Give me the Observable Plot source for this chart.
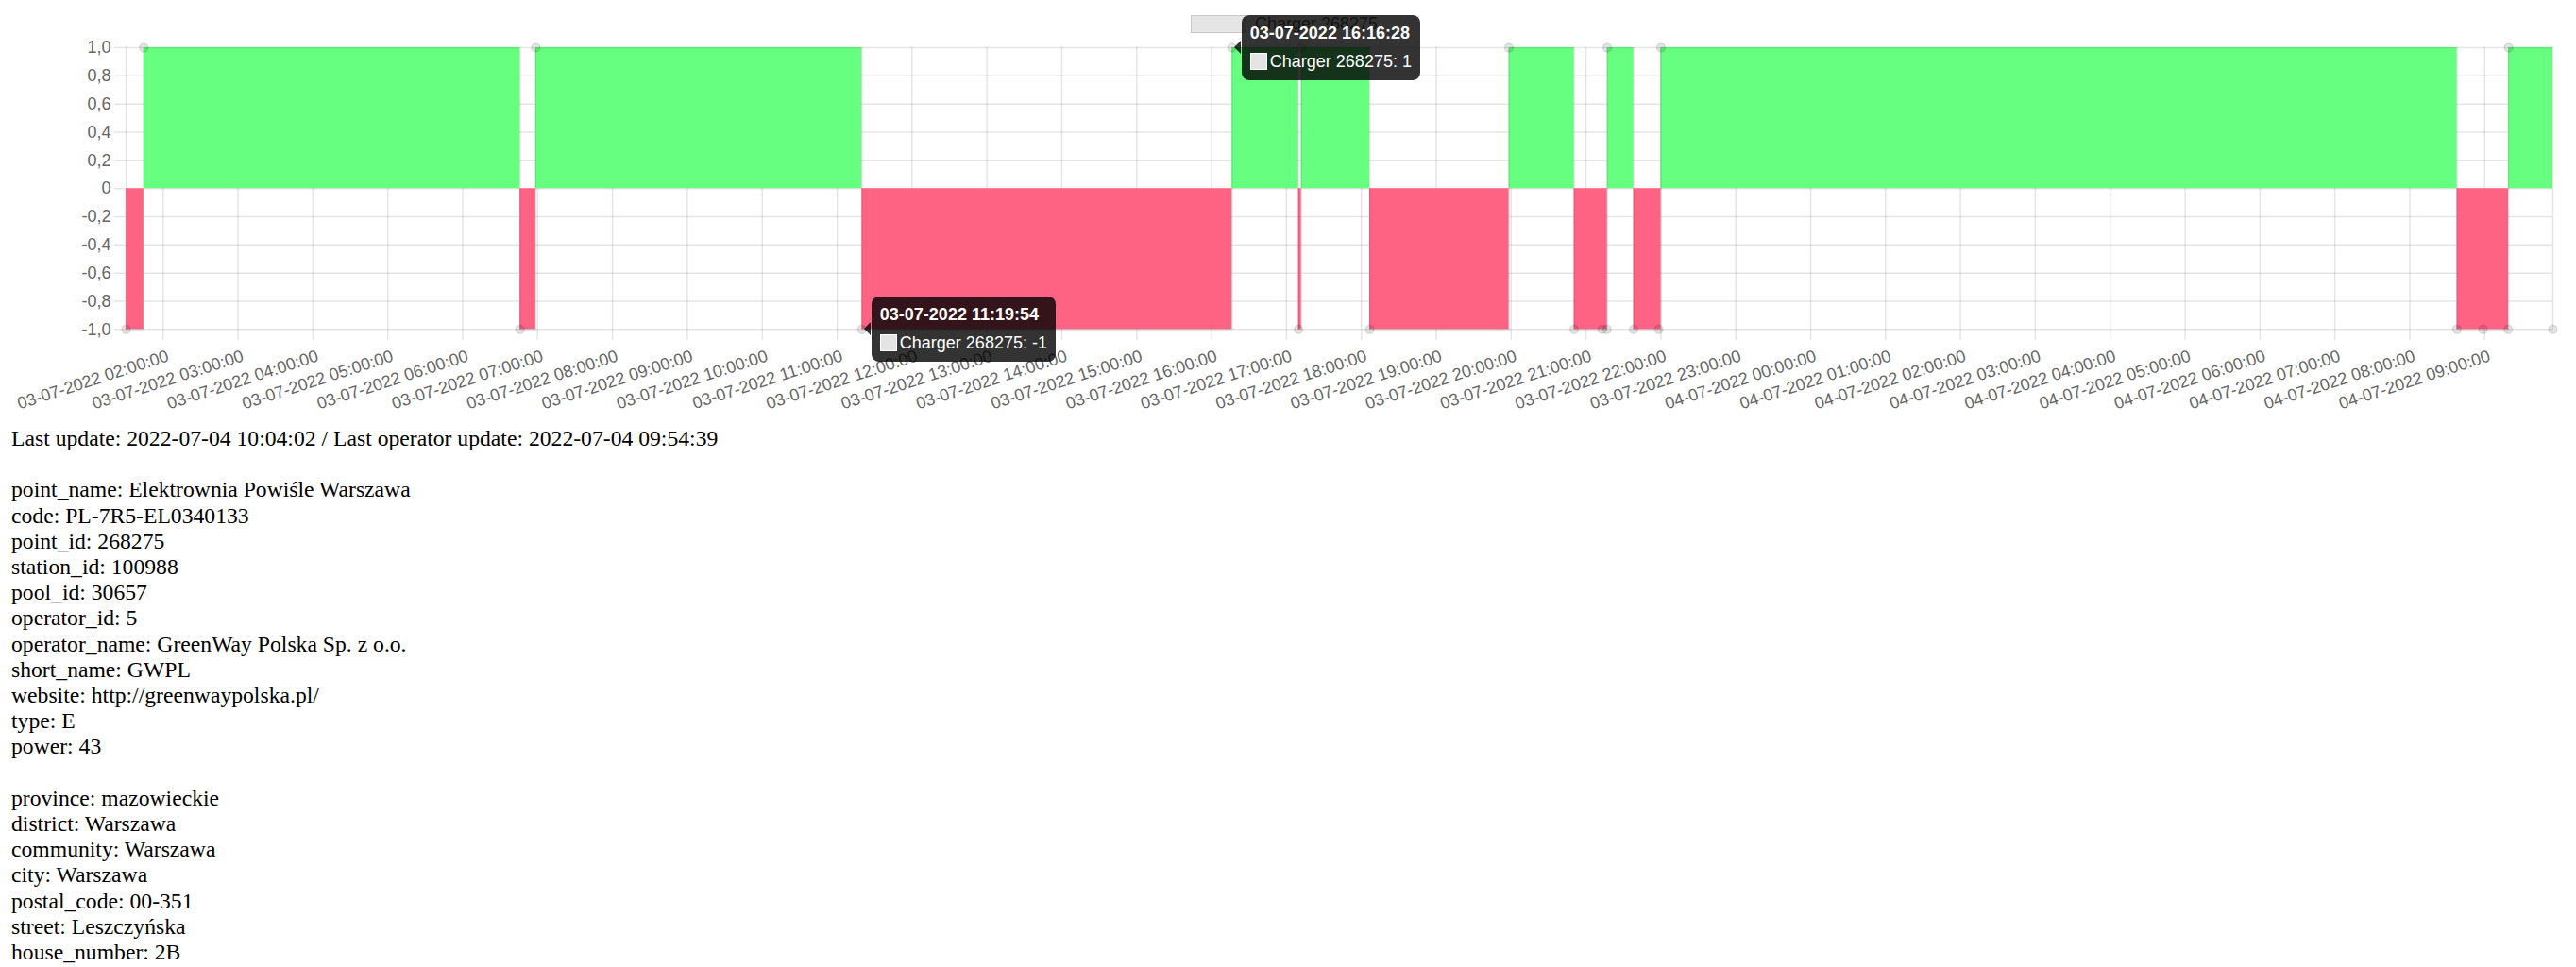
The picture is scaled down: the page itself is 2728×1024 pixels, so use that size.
<!DOCTYPE html>
<html><head><meta charset="utf-8">
<script src="https://cdn.jsdelivr.net/npm/d3@7"></script>
<script src="https://cdn.jsdelivr.net/npm/@observablehq/plot@0.6"></script>
<style>
html,body{margin:0;padding:0;background:#fff;overflow:hidden;}
#wrap{position:relative;width:2728px;}
.info{margin-left:12px;font-family:"Liberation Serif","Times New Roman",serif;font-size:23.67px;line-height:27.2px;white-space:pre;color:#000;}
.tt{position:absolute;background:rgba(0,0,0,0.8);border-radius:8px;padding:9px;color:#fff;font-family:"Liberation Sans",Arial,sans-serif;font-size:18px;white-space:nowrap;box-sizing:border-box;height:69px}
.tt .t{font-weight:bold;line-height:21px;height:21px;margin-bottom:9px}
.tt .b{line-height:21px;height:21px;display:flex;align-items:center}
.tt .sq{display:inline-block;width:16px;height:16px;background:#e4e4e4;border:1.5px solid #fff;margin-right:3px}
.tt .caret{position:absolute;left:-7.5px;top:27px;width:0;height:0;border-top:7.5px solid transparent;border-bottom:7.5px solid transparent;border-right:7.5px solid rgba(0,0,0,0.8)}
.lg{position:absolute;left:1261px;top:15px;display:flex;align-items:center;font-family:"Liberation Sans",Arial,sans-serif;font-size:18px;color:#666;line-height:20px}
.lg .bx{width:57px;height:17px;border:1.5px solid rgba(0,0,0,0.12);background:rgba(0,0,0,0.1);margin-right:9px}
</style></head><body>
<div id="wrap"></div>
<div class="info" id="info"></div>
<script>
// ---- data ----
const seriesName = "Charger 268275";
const times = [
  "03-07-2022 01:30:17","03-07-2022 01:44:30","03-07-2022 06:45:58","03-07-2022 06:58:31",
  "03-07-2022 11:19:54","03-07-2022 16:16:28","03-07-2022 17:09:40","03-07-2022 17:11:56",
  "03-07-2022 18:06:44","03-07-2022 19:58:19","03-07-2022 20:50:31","03-07-2022 21:12:58",
  "03-07-2022 21:16:44","03-07-2022 21:17:06","03-07-2022 21:38:10","03-07-2022 21:58:19",
  "03-07-2022 22:00:04","04-07-2022 08:37:52","04-07-2022 08:58:48","04-07-2022 09:18:50",
  "04-07-2022 09:19:12","04-07-2022 09:54:39"
];
const values = [-1,1,-1,1,-1,1,-1,1,-1,1,-1,-1,-1,1,-1,-1,1,-1,-1,-1,1,-1];
const tooltipIdx = [5, 4];
const xTickLabels = [
  "03-07-2022 02:00:00","03-07-2022 03:00:00","03-07-2022 04:00:00","03-07-2022 05:00:00",
  "03-07-2022 06:00:00","03-07-2022 07:00:00","03-07-2022 08:00:00","03-07-2022 09:00:00",
  "03-07-2022 10:00:00","03-07-2022 11:00:00","03-07-2022 12:00:00","03-07-2022 13:00:00",
  "03-07-2022 14:00:00","03-07-2022 15:00:00","03-07-2022 16:00:00","03-07-2022 17:00:00",
  "03-07-2022 18:00:00","03-07-2022 19:00:00","03-07-2022 20:00:00","03-07-2022 21:00:00",
  "03-07-2022 22:00:00","03-07-2022 23:00:00","04-07-2022 00:00:00","04-07-2022 01:00:00",
  "04-07-2022 02:00:00","04-07-2022 03:00:00","04-07-2022 04:00:00","04-07-2022 05:00:00",
  "04-07-2022 06:00:00","04-07-2022 07:00:00","04-07-2022 08:00:00","04-07-2022 09:00:00"
];
const yTicks = [1, 0.8, 0.6, 0.4, 0.2, 0, -0.2, -0.4, -0.6, -0.8, -1];
const yTickLabels = ["1,0","0,8","0,6","0,4","0,2","0","-0,2","-0,4","-0,6","-0,8","-1,0"];
const infoLines = [
  "Last update: 2022-07-04 10:04:02 / Last operator update: 2022-07-04 09:54:39",
  "",
  "point_name: Elektrownia Powiśle Warszawa",
  "code: PL-7R5-EL0340133",
  "point_id: 268275",
  "station_id: 100988",
  "pool_id: 30657",
  "operator_id: 5",
  "operator_name: GreenWay Polska Sp. z o.o.",
  "short_name: GWPL",
  "website: http://greenwaypolska.pl/",
  "type: E",
  "power: 43",
  "",
  "province: mazowieckie",
  "district: Warszawa",
  "community: Warszawa",
  "city: Warszawa",
  "postal_code: 00-351",
  "street: Leszczyńska",
  "house_number: 2B"
];

// ---- build ----
const parse = d3.timeParse("%d-%m-%Y %H:%M:%S");
const fmt = d3.timeFormat("%d-%m-%Y %H:%M:%S");
const data = times.map((t, i) => ({t: parse(t), v: values[i]}));
const xTicks = xTickLabels.map(parse);
const GREEN = "rgb(102,255,128)";
const RED = "rgb(255,99,132)";
const GRID = {stroke: "#000", strokeOpacity: 0.1, strokeWidth: 1.5};

const plot = Plot.plot({
  width: 2728,
  height: 451,
  marginTop: 50,
  marginBottom: 102.7,
  marginLeft: 133,
  marginRight: 25,
  style: {fontFamily: "'Liberation Sans', Arial, sans-serif", fontSize: "18px", background: "#fff"},
  x: {type: "time", domain: [data[0].t, data[data.length - 1].t], axis: null},
  y: {domain: [-1, 1], axis: null},
  marks: [
    Plot.ruleY(yTicks, {y: d => d, ...GRID, insetLeft: -12}),
    Plot.ruleX(xTicks, {x: d => d, ...GRID, insetBottom: -12}),
    Plot.ruleX([data[0].t], {x: d => d, ...GRID}),
    Plot.areaY(data, {x: "t", y: d => Math.max(d.v, 0), curve: "step-after", fill: GREEN}),
    Plot.areaY(data, {x: "t", y: d => Math.min(d.v, 0), curve: "step-after", fill: RED}),
    Plot.line(data, {x: "t", y: "v", curve: "step-after", stroke: "#000", strokeOpacity: 0.1, strokeWidth: 1.5}),
    Plot.dot(data, {x: "t", y: "v", r: 4.5, fill: "#000", fillOpacity: 0.1, stroke: "#000", strokeOpacity: 0.1, strokeWidth: 1.5}),
    Plot.text(yTicks, {y: d => d, frameAnchor: "left", text: (d, i) => yTickLabels[i], textAnchor: "end", dx: -16, fontSize: 18, fill: "#666"}),
    Plot.text(xTicks, {x: d => d, frameAnchor: "bottom", text: (d, i) => xTickLabels[i], textAnchor: "end", lineAnchor: "top", rotate: -18, dx: 3, dy: 21, fontSize: 18, fill: "#666"})
  ]
});

const wrap = document.getElementById("wrap");
wrap.appendChild(plot);

// legend
const lg = document.createElement("div");
lg.className = "lg";
lg.innerHTML = `<span class="bx"></span><span>${seriesName}</span>`;
wrap.appendChild(lg);

// tooltips
const sx = plot.scale("x"), sy = plot.scale("y");
for (const i of tooltipIdx) {
  const d = data[i];
  const px = sx.apply(d.t), py = sy.apply(d.v);
  const tt = document.createElement("div");
  tt.className = "tt";
  tt.style.left = (px + 10.5) + "px";
  tt.style.top = (py - 34.5) + "px";
  tt.innerHTML = `<div class="caret"></div><div class="t">${fmt(d.t)}</div><div class="b"><span class="sq"></span><span>${seriesName}: ${d.v}</span></div>`;
  wrap.appendChild(tt);
}

document.getElementById("info").textContent = infoLines.join("\n");
</script>
</body></html>
